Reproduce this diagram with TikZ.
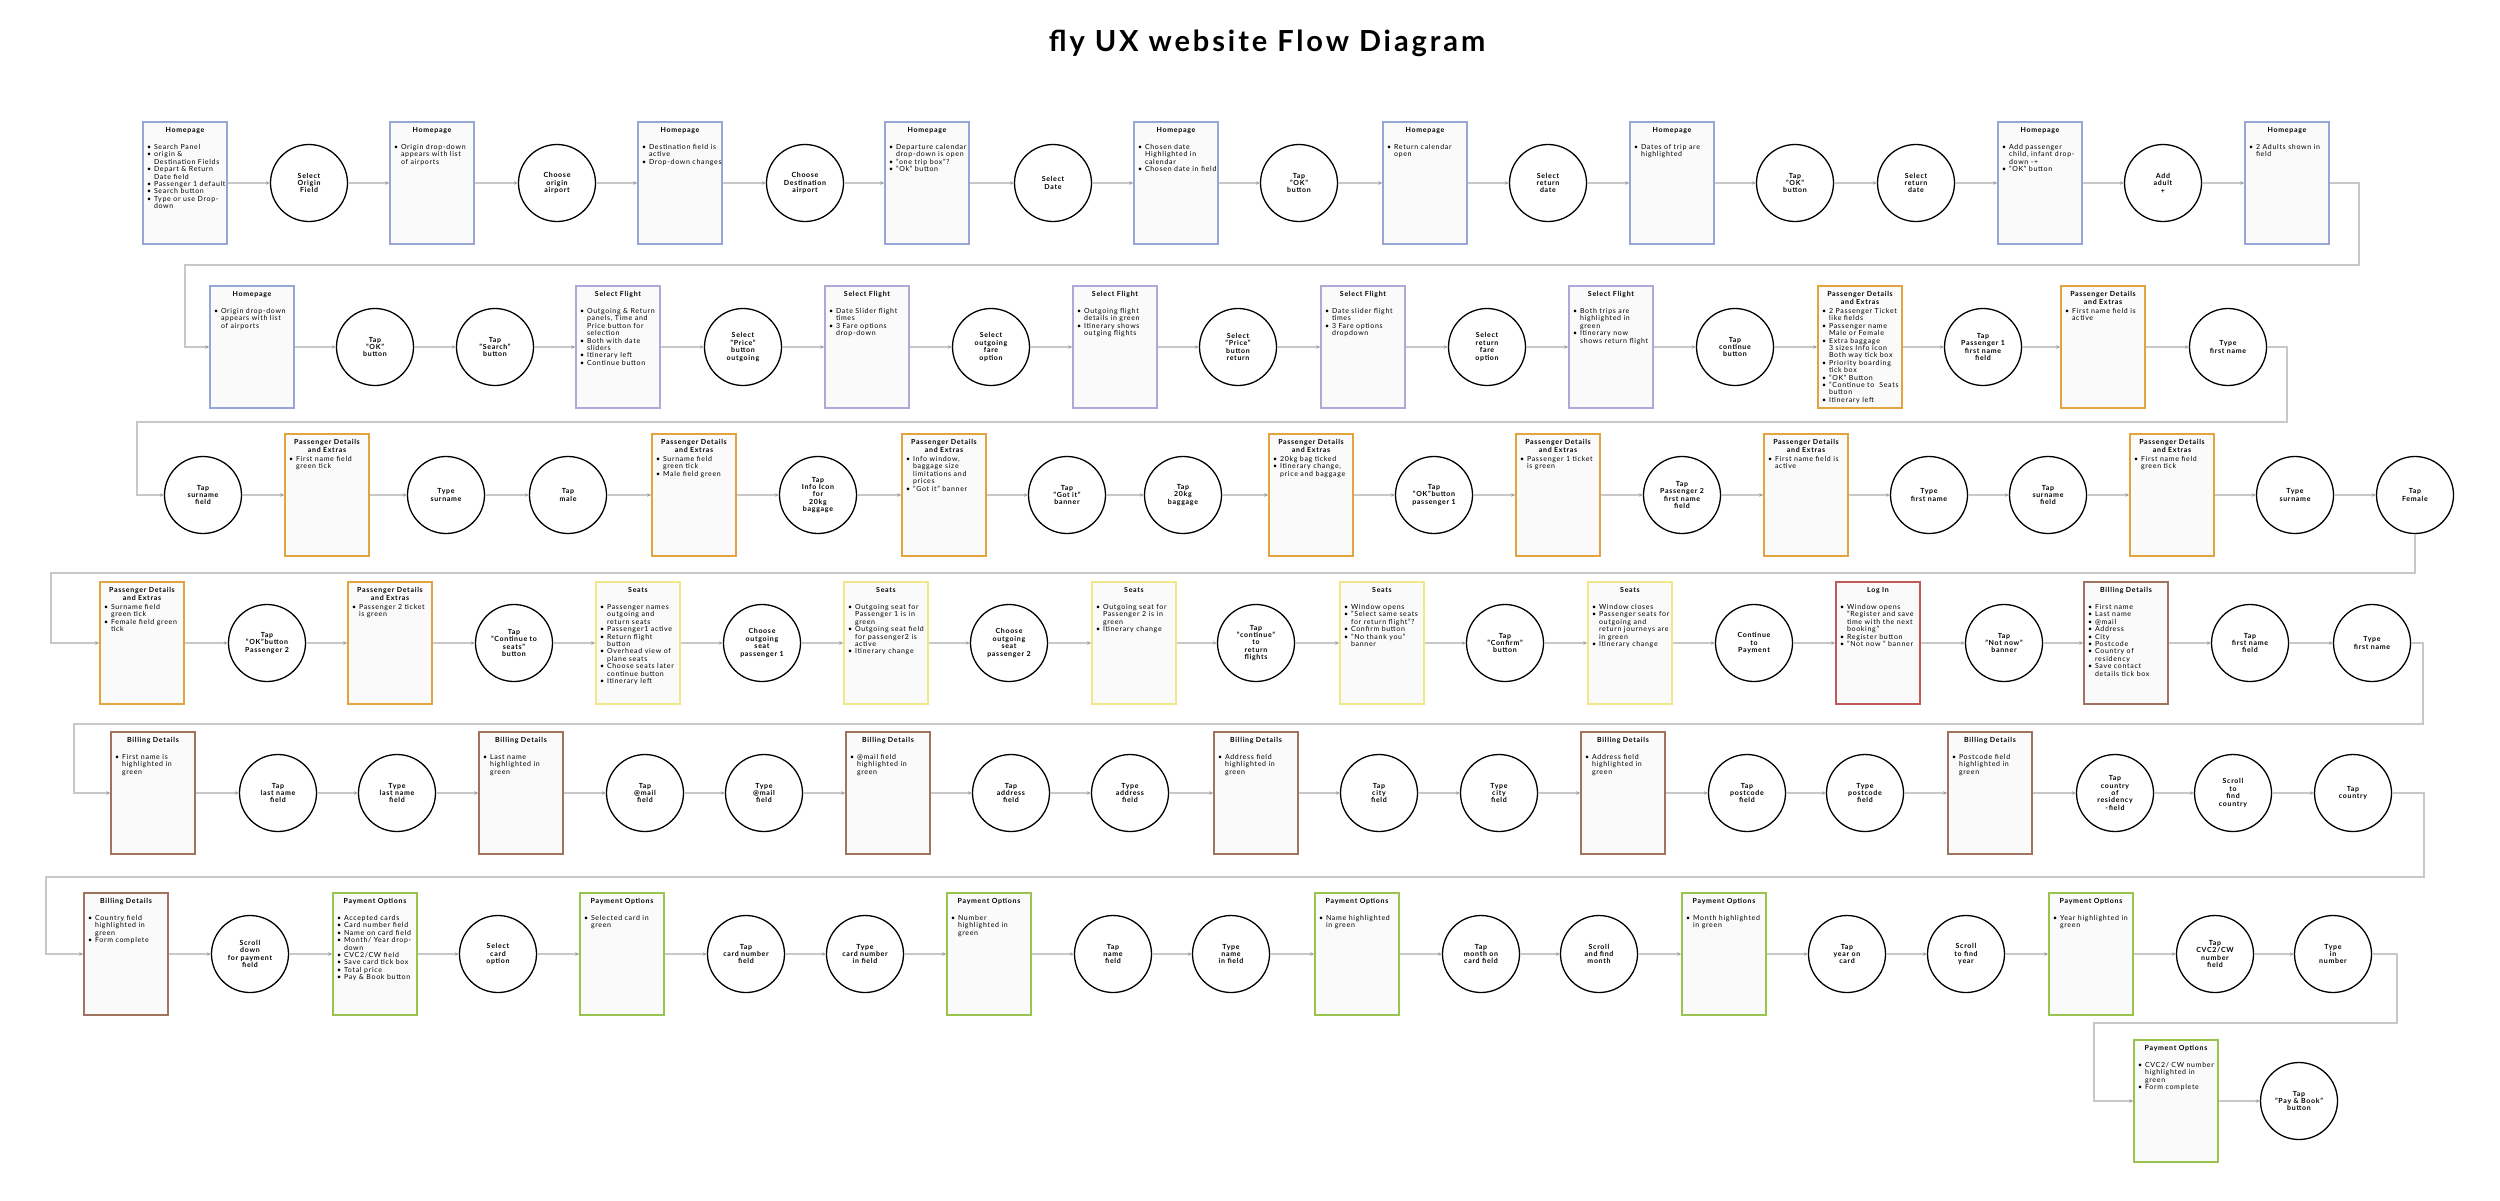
\documentclass[tikz,border=0pt]{standalone}
\usepackage{fontspec}
\setmainfont{Lato}[LetterSpace=10]
\usetikzlibrary{arrows.meta}
\definecolor{hpc}{HTML}{97A6D6}
\definecolor{sfc}{HTML}{B3A6D8}
\definecolor{pdc}{HTML}{E3A43F}
\definecolor{sec}{HTML}{F0E68A}
\definecolor{lic}{HTML}{BF5A5A}
\definecolor{bdc}{HTML}{A0735E}
\definecolor{poc}{HTML}{98C44E}
\definecolor{boxfill}{HTML}{FAFAFA}
\definecolor{linegray}{HTML}{C8C8C8}
\newcommand\bx[2]{\parbox[c][122pt][t]{78pt}{\vspace*{5.5pt}\vbox to 14.5pt{\hsize=78pt\centering\bfseries #1\par\vfil}\makebox[78pt][l]{\parbox[t]{110pt}{#2}}}}
\newcommand\bi[1]{\par\hangindent=8pt\hangafter=1\noindent\makebox[8pt][l]{\hspace{1pt}\textbullet}#1}
\tikzset{
  scrbox/.style={rectangle, fill=boxfill, line width=1.5pt, inner sep=0pt, minimum width=84pt, minimum height=122pt, font=\fontsize{7}{7.4}\selectfont},
  boxhp/.style={scrbox, draw=hpc},
  boxsf/.style={scrbox, draw=sfc},
  boxpd/.style={scrbox, draw=pdc},
  boxse/.style={scrbox, draw=sec},
  boxli/.style={scrbox, draw=lic},
  boxbd/.style={scrbox, draw=bdc},
  boxpo/.style={scrbox, draw=poc},
  act/.style={circle, draw=black, line width=1.3pt, fill=white, minimum size=77pt, inner sep=0pt, align=center, font=\bfseries\fontsize{7}{7.4}\selectfont},
  conn/.style={draw=linegray, line width=1.3pt, -{Stealth[length=4pt,width=3.5pt,color=linegray!80!black]}}
}
\begin{document}
\begin{tikzpicture}[x=1pt,y=-1pt]
\fill[white] (0,0) rectangle (2500,1200);
\useasboundingbox (0,0) rectangle (2500,1200);
\node (title) at (1267,43) {\fontsize{29}{34}\selectfont\bfseries fly UX website Flow Diagram};
% ---------- Row 1
\def\y{183}
\node[boxhp] (r1n1) at (185,\y) {\bx{Homepage}{\bi{Search Panel}\bi{origin \&\\Destination Fields}\bi{Depart \& Return\\Date field}\bi{Passenger 1 default}\bi{Search button}\bi{Type or use Drop-\\down}}};
\node[act] (r1n2) at (309,\y) {Select\\Origin\\Field};
\node[boxhp] (r1n3) at (432,\y) {\bx{Homepage}{\bi{Origin drop-down\\appears with list\\of airports}}};
\node[act] (r1n4) at (557,\y) {Choose\\origin\\airport};
\node[boxhp] (r1n5) at (680,\y) {\bx{Homepage}{\bi{Destination field is\\active}\bi{Drop-down changes}}};
\node[act] (r1n6) at (805,\y) {Choose\\Destination\\airport};
\node[boxhp] (r1n7) at (927,\y) {\bx{Homepage}{\bi{Departure calendar\\drop-down is open}\bi{"one trip box"?}\bi{"Ok" button}}};
\node[act] (r1n8) at (1053,\y) {Select\\Date};
\node[boxhp] (r1n9) at (1176,\y) {\bx{Homepage}{\bi{Chosen date\\Highlighted in\\calendar}\bi{Chosen date in field}}};
\node[act] (r1n10) at (1299,\y) {Tap\\"OK"\\button};
\node[boxhp] (r1n11) at (1425,\y) {\bx{Homepage}{\bi{Return calendar\\open}}};
\node[act] (r1n12) at (1548,\y) {Select\\return\\date};
\node[boxhp] (r1n13) at (1672,\y) {\bx{Homepage}{\bi{Dates of trip are\\highlighted}}};
\node[act] (r1n14) at (1795,\y) {Tap\\"OK"\\button};
\node[act] (r1n15) at (1916,\y) {Select\\return\\date};
\node[boxhp] (r1n16) at (2040,\y) {\bx{Homepage}{\bi{Add passenger\\child, infant drop-\\down -+}\bi{"OK" button}}};
\node[act] (r1n17) at (2163,\y) {Add\\adult\\+};
\node[boxhp] (r1n18) at (2287,\y) {\bx{Homepage}{\bi{2 Adults shown in\\field}}};
% ---------- Row 2
\def\y{347}
\node[boxhp] (r2n1) at (252,\y) {\bx{Homepage}{\bi{Origin drop-down\\appears with list\\of airports}}};
\node[act] (r2n2) at (375,\y) {Tap\\"OK"\\button};
\node[act] (r2n3) at (495,\y) {Tap\\"Search"\\button};
\node[boxsf] (r2n4) at (618,\y) {\bx{Select Flight}{\bi{Outgoing \& Return\\panels, Time and\\Price button for\\selection}\bi{Both with date\\sliders}\bi{Itinerary left}\bi{Continue button}}};
\node[act] (r2n5) at (743,\y) {Select\\"Price"\\button\\outgoing};
\node[boxsf] (r2n6) at (867,\y) {\bx{Select Flight}{\bi{Date Slider flight\\times}\bi{3 Fare options\\drop-down}}};
\node[act] (r2n7) at (991,\y) {Select\\outgoing\\fare\\option};
\node[boxsf] (r2n8) at (1115,\y) {\bx{Select Flight}{\bi{Outgoing flight\\details in green}\bi{Itinerary shows\\outging flights}}};
\node[act] (r2n9) at (1238,\y) {Select\\"Price"\\button\\return};
\node[boxsf] (r2n10) at (1363,\y) {\bx{Select Flight}{\bi{Date slider flight\\times}\bi{3 Fare options\\dropdown}}};
\node[act] (r2n11) at (1487,\y) {Select\\return\\fare\\option};
\node[boxsf] (r2n12) at (1611,\y) {\bx{Select Flight}{\bi{Both trips are\\highlighted in\\green}\bi{Itinerary now\\shows return flight}}};
\node[act] (r2n13) at (1735,\y) {Tap\\continue\\button};
\node[boxpd] (r2n14) at (1860,\y) {\bx{Passenger Details\\and Extras}{\bi{2 Passenger Ticket\\like fields}\bi{Passenger name\\Male or Female}\bi{Extra baggage\\3 sizes Info icon\\Both way tick box}\bi{Priority boarding\\tick box}\bi{"OK" Button}\bi{"Continue to\ \ Seats\\button}\bi{Itinerary left}}};
\node[act] (r2n15) at (1983,\y) {Tap\\Passenger 1\\first name\\field};
\node[boxpd] (r2n16) at (2103,\y) {\bx{Passenger Details\\and Extras}{\bi{First name field is\\active}}};
\node[act] (r2n17) at (2228,\y) {Type\\first name};
% ---------- Row 3
\def\y{495}
\node[act] (r3n1) at (203,\y) {Tap\\surname\\field};
\node[boxpd] (r3n2) at (327,\y) {\bx{Passenger Details\\and Extras}{\bi{First name field\\green tick}}};
\node[act] (r3n3) at (446,\y) {Type\\surname};
\node[act] (r3n4) at (568,\y) {Tap\\male};
\node[boxpd] (r3n5) at (694,\y) {\bx{Passenger Details\\and Extras}{\bi{Surname field\\green tick}\bi{Male field green}}};
\node[act] (r3n6) at (818,\y) {Tap\\Info Icon\\for\\20kg\\baggage};
\node[boxpd] (r3n7) at (944,\y) {\bx{Passenger Details\\and Extras}{\bi{Info window,\\baggage size\\limitations and\\prices}\bi{"Got it" banner}}};
\node[act] (r3n8) at (1067,\y) {Tap\\"Got it"\\banner};
\node[act] (r3n9) at (1183,\y) {Tap\\20kg\\baggage};
\node[boxpd] (r3n10) at (1311,\y) {\bx{Passenger Details\\and Extras}{\bi{20kg bag ticked}\bi{Itinerary change,\\price and baggage}}};
\node[act] (r3n11) at (1434,\y) {Tap\\"OK"button\\passenger 1};
\node[boxpd] (r3n12) at (1558,\y) {\bx{Passenger Details\\and Extras}{\bi{Passenger 1 ticket\\is green}}};
\node[act] (r3n13) at (1682,\y) {Tap\\Passenger 2\\first name\\field};
\node[boxpd] (r3n14) at (1806,\y) {\bx{Passenger Details\\and Extras}{\bi{First name field is\\active}}};
\node[act] (r3n15) at (1929,\y) {Type\\first name};
\node[act] (r3n16) at (2048,\y) {Tap\\surname\\field};
\node[boxpd] (r3n17) at (2172,\y) {\bx{Passenger Details\\and Extras}{\bi{First name field\\green tick}}};
\node[act] (r3n18) at (2295,\y) {Type\\surname};
\node[act] (r3n19) at (2415,\y) {Tap\\Female};
% ---------- Row 4
\def\y{643}
\node[boxpd] (r4n1) at (142,\y) {\bx{Passenger Details\\and Extras}{\bi{Surname field\\green tick}\bi{Female field green\\tick}}};
\node[act] (r4n2) at (267,\y) {Tap\\"OK"button\\Passenger 2};
\node[boxpd] (r4n3) at (390,\y) {\bx{Passenger Details\\and Extras}{\bi{Passenger 2 ticket\\is green}}};
\node[act] (r4n4) at (514,\y) {Tap\\"Continue to\\seats"\\button};
\node[boxse] (r4n5) at (638,\y) {\bx{Seats}{\bi{Passenger names\\outgoing and\\return seats}\bi{Passenger1 active}\bi{Return flight\\button}\bi{Overhead view of\\plane seats}\bi{Choose seats later\\continue button}\bi{Itinerary left}}};
\node[act] (r4n6) at (762,\y) {Choose\\outgoing\\seat\\passenger 1};
\node[boxse] (r4n7) at (886,\y) {\bx{Seats}{\bi{Outgoing seat for\\Passenger 1 is in\\green}\bi{Outgoing seat field\\for passenger2 is\\active}\bi{Itinerary change}}};
\node[act] (r4n8) at (1009,\y) {Choose\\outgoing\\seat\\passenger 2};
\node[boxse] (r4n9) at (1134,\y) {\bx{Seats}{\bi{Outgoing seat for\\Passenger 2 is in\\green}\bi{Itinerary change}}};
\node[act] (r4n10) at (1256,\y) {Tap\\"continue"\\to\\return\\flights};
\node[boxse] (r4n11) at (1382,\y) {\bx{Seats}{\bi{Window opens}\bi{"Select same seats\\for return flight"?}\bi{Confirm button}\bi{"No thank you"\\banner}}};
\node[act] (r4n12) at (1505,\y) {Tap\\"Confirm"\\button};
\node[boxse] (r4n13) at (1630,\y) {\bx{Seats}{\bi{Window closes}\bi{Passenger seats for\\outgoing and\\return journeys are\\in green}\bi{Itinerary change}}};
\node[act] (r4n14) at (1754,\y) {Continue\\to\\Payment};
\node[boxli] (r4n15) at (1878,\y) {\bx{Log In}{\bi{Window opens\\"Register and save\\time with the next\\booking"}\bi{Register button}\bi{"Not now " banner}}};
\node[act] (r4n16) at (2004,\y) {Tap\\"Not now"\\banner};
\node[boxbd] (r4n17) at (2126,\y) {\bx{Billing Details}{\bi{First name}\bi{Last name}\bi{@mail}\bi{Address}\bi{City}\bi{Postcode}\bi{Country of\\residency}\bi{Save contact\\details tick box}}};
\node[act] (r4n18) at (2250,\y) {Tap\\first name\\field};
\node[act] (r4n19) at (2372,\y) {Type\\first name};
% ---------- Row 5
\def\y{793}
\node[boxbd] (r5n1) at (153,\y) {\bx{Billing Details}{\bi{First name is\\highlighted in\\green}}};
\node[act] (r5n2) at (278,\y) {Tap\\last name\\field};
\node[act] (r5n3) at (397,\y) {Type\\last name\\field};
\node[boxbd] (r5n4) at (521,\y) {\bx{Billing Details}{\bi{Last name\\highlighted in\\green}}};
\node[act] (r5n5) at (645,\y) {Tap\\@mail\\field};
\node[act] (r5n6) at (764,\y) {Type\\@mail\\field};
\node[boxbd] (r5n7) at (888,\y) {\bx{Billing Details}{\bi{@mail field\\highlighted in\\green}}};
\node[act] (r5n8) at (1011,\y) {Tap\\address\\field};
\node[act] (r5n9) at (1130,\y) {Type\\address\\field};
\node[boxbd] (r5n10) at (1256,\y) {\bx{Billing Details}{\bi{Address field\\highlighted in\\green}}};
\node[act] (r5n11) at (1379,\y) {Tap\\city\\field};
\node[act] (r5n12) at (1499,\y) {Type\\city\\field};
\node[boxbd] (r5n13) at (1623,\y) {\bx{Billing Details}{\bi{Address field\\highlighted in\\green}}};
\node[act] (r5n14) at (1747,\y) {Tap\\postcode\\field};
\node[act] (r5n15) at (1865,\y) {Type\\postcode\\field};
\node[boxbd] (r5n16) at (1990,\y) {\bx{Billing Details}{\bi{Postcode field\\highlighted in\\green}}};
\node[act] (r5n17) at (2115,\y) {Tap\\country\\of\\residency\\-field};
\node[act] (r5n18) at (2233,\y) {Scroll\\to\\find\\country};
\node[act] (r5n19) at (2353,\y) {Tap\\country};
% ---------- Row 6
\def\y{954}
\node[boxbd] (r6n1) at (126,\y) {\bx{Billing Details}{\bi{Country field\\highlighted in\\green}\bi{Form complete}}};
\node[act] (r6n2) at (250,\y) {Scroll\\down\\for payment\\field};
\node[boxpo] (r6n3) at (375,\y) {\bx{Payment Options}{\bi{Accepted cards}\bi{Card number field}\bi{Name on card field}\bi{Month/ Year drop-\\down}\bi{CVC2/CW field}\bi{Save card tick box}\bi{Total price}\bi{Pay \& Book button}}};
\node[act] (r6n4) at (498,\y) {Select\\card\\option};
\node[boxpo] (r6n5) at (622,\y) {\bx{Payment Options}{\bi{Selected card in\\green}}};
\node[act] (r6n6) at (746,\y) {Tap\\card number\\field};
\node[act] (r6n7) at (865,\y) {Type\\card number\\in field};
\node[boxpo] (r6n8) at (989,\y) {\bx{Payment Options}{\bi{Number\\highlighted in\\green}}};
\node[act] (r6n9) at (1113,\y) {Tap\\name\\field};
\node[act] (r6n10) at (1231,\y) {Type\\name\\in field};
\node[boxpo] (r6n11) at (1357,\y) {\bx{Payment Options}{\bi{Name highlighted\\in green}}};
\node[act] (r6n12) at (1481,\y) {Tap\\month on\\card field};
\node[act] (r6n13) at (1599,\y) {Scroll\\and find\\month};
\node[boxpo] (r6n14) at (1724,\y) {\bx{Payment Options}{\bi{Month highlighted\\in green}}};
\node[act] (r6n15) at (1847,\y) {Tap\\year on\\card};
\node[act] (r6n16) at (1966,\y) {Scroll\\to find\\year};
\node[boxpo] (r6n17) at (2091,\y) {\bx{Payment Options}{\bi{Year highlighted in\\green}}};
\node[act] (r6n18) at (2215,\y) {Tap\\CVC2/CW\\number\\field};
\node[act] (r6n19) at (2333,\y) {Type\\in\\number};
% ---------- Row 7
\def\y{1101}
\node[boxpo] (r7n1) at (2176,\y) {\bx{Payment Options}{\bi{CVC2/ CW number\\highlighted in\\green}\bi{Form complete}}};
\node[act] (r7n2) at (2299,\y) {Tap\\"Pay \& Book"\\button};
% ---------- connectors within rows
\foreach \r/\n in {1/18,2/17,3/19,4/19,5/19,6/19,7/2}{
  \pgfmathtruncatemacro\m{\n-1}
  \foreach \i in {1,...,\m}{
    \pgfmathtruncatemacro\j{\i+1}
    \draw[conn] (r\r n\i) -- (r\r n\j);
  }
}
% ---------- wrap connectors
\draw[conn] (r1n18.east) -- (2359,183) -- (2359,265) -- (185,265) -- (185,347) -- (r2n1.west);
\draw[conn] (r2n17.east) -- (2287,347) -- (2287,422) -- (137,422) -- (137,495) -- (r3n1.west);
\draw[conn] (r3n19.south) -- (2415,573) -- (51,573) -- (51,643) -- (r4n1.west);
\draw[conn] (r4n19.east) -- (2423,643) -- (2423,724) -- (74,724) -- (74,793) -- (r5n1.west);
\draw[conn] (r5n19.east) -- (2424,793) -- (2424,877) -- (46,877) -- (46,954) -- (r6n1.west);
\draw[conn] (r6n19.east) -- (2397,954) -- (2397,1023) -- (2094,1023) -- (2094,1101) -- (r7n1.west);
\end{tikzpicture}
\end{document}
